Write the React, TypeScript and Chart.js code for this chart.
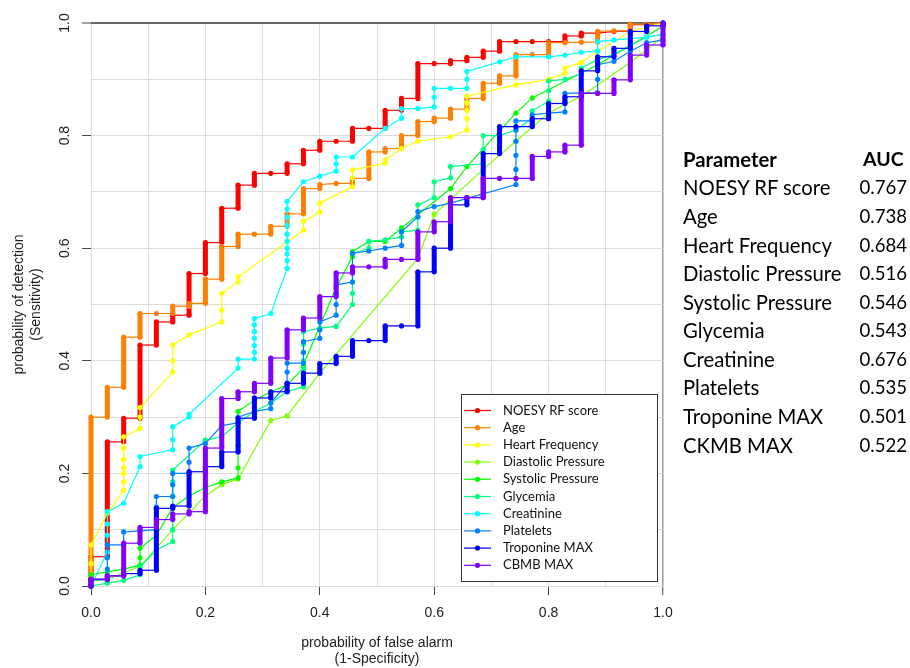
import React, { useEffect, useRef } from 'react';
import { Chart, registerables } from 'chart.js';

Chart.register(...registerables);

// number of negative cases: x = false positives / NEGATIVES
const NEGATIVES = 35;

const seriesNames = [
  'NOESY RF score', 'Age', 'Heart Frequency', 'Diastolic Pressure', 'Systolic Pressure',
  'Glycemia', 'Creatinine', 'Platelets', 'Troponine MAX', 'CBMB MAX',
];
const tableNames = [
  'NOESY RF score', 'Age', 'Heart Frequency', 'Diastolic Pressure', 'Systolic Pressure',
  'Glycemia', 'Creatinine', 'Platelets', 'Troponine MAX', 'CKMB MAX',
];
const aucValues = ['0.767', '0.738', '0.684', '0.516', '0.546', '0.543', '0.676', '0.535', '0.501', '0.522'];
const seriesColors = ['#FF0000', '#FF8000', '#FFFF00', '#80FF00', '#00FF00', '#00FF80', '#00FFFF', '#0080FF', '#0000FF', '#8000FF'];
const denseSeries = [true, true, false, false, false, false, false, false, true, true];

// [false positives, sensitivity]
const noesyRF = [[0,0],[0,0.052],[1,0.052],[1,0.256],[2,0.256],[2,0.298],[3,0.298],[3,0.428],[4,0.428],[4,0.469],[5,0.469],[5,0.481],[6,0.481],[6,0.555],[7,0.555],[7,0.61],[8,0.61],[8,0.671],[9,0.671],[9,0.712],[10,0.712],[10,0.733],[11,0.733],[12,0.733],[12,0.75],[13,0.75],[13,0.774],[14,0.774],[14,0.79],[15,0.79],[16,0.79],[16,0.813],[17,0.813],[18,0.813],[18,0.845],[19,0.845],[19,0.866],[20,0.866],[20,0.928],[21,0.928],[22,0.928],[22,0.933],[23,0.933],[23,0.939],[24,0.939],[24,0.95],[25,0.95],[25,0.967],[26,0.967],[27,0.967],[28,0.967],[29,0.967],[29,0.977],[30,0.977],[30,0.982],[31,0.982],[32,0.985],[33,0.985],[33,0.997],[34,0.997],[35,1]];
const age = [[0,0],[0,0.30],[1,0.30],[1,0.353],[2,0.353],[2,0.442],[3,0.442],[3,0.484],[4,0.484],[5,0.484],[5,0.497],[6,0.497],[6,0.502],[7,0.502],[7,0.545],[8,0.545],[8,0.603],[9,0.603],[9,0.625],[10,0.625],[11,0.625],[11,0.639],[12,0.639],[12,0.661],[13,0.661],[13,0.706],[14,0.706],[14,0.713],[15,0.715],[16,0.715],[16,0.724],[17,0.724],[17,0.771],[18,0.771],[18,0.777],[19,0.777],[19,0.80],[20,0.80],[20,0.825],[21,0.825],[21,0.831],[22,0.831],[22,0.847],[23,0.847],[23,0.866],[24,0.866],[24,0.893],[25,0.893],[25,0.906],[26,0.906],[26,0.944],[27,0.944],[28,0.944],[28,0.965],[29,0.965],[30,0.966],[31,0.966],[31,0.985],[32,0.986],[33,0.986],[33,0.998],[34,0.998],[35,1]];
const heartFrequency = [[0,0],[0,0.04],[0,0.073],[1,0.129],[2,0.17],[2,0.185],[2,0.20],[2,0.21],[2,0.225],[2,0.245],[2,0.265],[3,0.28],[3,0.30],[3,0.317],[5,0.38],[5,0.40],[5,0.428],[6,0.446],[8,0.469],[8,0.49],[8,0.52],[9,0.54],[9,0.549],[13,0.632],[13,0.648],[14,0.664],[14,0.68],[16,0.709],[16,0.725],[16,0.739],[18,0.751],[18,0.757],[19,0.777],[20,0.79],[22,0.798],[23,0.81],[23,0.83],[23,0.845],[23,0.858],[23,0.87],[26,0.89],[28,0.90],[29,0.911],[29,0.92],[30,0.93],[31,0.95],[33,0.985],[35,1]];
const diastolic = [[0,0],[0,0.008],[1,0.012],[3,0.035],[5,0.1],[7,0.16],[8,0.18],[9,0.19],[11,0.294],[12,0.302],[14,0.378],[20,0.582],[21,0.66],[24,0.74],[26,0.79],[28,0.84],[30,0.87],[33,0.93],[35,0.975],[35,1]];
const systolic = [[0,0],[0,0.02],[1,0.025],[2,0.03],[3,0.037],[3,0.05],[3,0.067],[4,0.09],[5,0.14],[6,0.16],[7,0.175],[8,0.185],[9,0.192],[9,0.21],[9,0.25],[9,0.31],[10,0.33],[11,0.345],[12,0.357],[13,0.387],[13,0.393],[15,0.53],[16,0.585],[16,0.594],[17,0.612],[18,0.612],[19,0.636],[22,0.706],[23,0.745],[26,0.84],[27,0.867],[31,0.926],[35,0.994],[35,1]];
const glycemia = [[0,0],[1,0.005],[2,0.01],[3,0.02],[3,0.034],[4,0.064],[5,0.079],[5,0.1],[5,0.12],[5,0.14],[5,0.16],[5,0.185],[5,0.206],[7,0.259],[8,0.265],[9,0.29],[10,0.31],[11,0.325],[12,0.345],[13,0.354],[13,0.37],[13,0.385],[13,0.40],[13,0.415],[13,0.43],[13,0.452],[14,0.458],[15,0.461],[16,0.5],[16,0.52],[16,0.54],[16,0.56],[16,0.59],[17,0.6],[17,0.612],[18,0.615],[19,0.62],[19,0.629],[20,0.632],[20,0.655],[20,0.677],[21,0.69],[21,0.718],[22,0.725],[22,0.745],[24,0.75],[24,0.775],[24,0.8],[25,0.8],[26,0.81],[27,0.831],[27,0.844],[28,0.861],[28,0.88],[28,0.897],[29,0.9],[30,0.91],[30,0.92],[31,0.935],[32,0.945],[33,0.96],[34,0.975],[35,0.98],[35,1]];
const creatinine = [[0,0],[1,0.06],[1,0.09],[1,0.11],[1,0.132],[2,0.147],[3,0.212],[3,0.23],[5,0.242],[5,0.26],[5,0.283],[6,0.30],[6,0.305],[9,0.387],[9,0.403],[10,0.403],[10,0.415],[10,0.427],[10,0.44],[10,0.452],[10,0.464],[10,0.475],[11,0.484],[12,0.564],[12,0.578],[12,0.59],[12,0.60],[12,0.612],[12,0.625],[12,0.64],[12,0.655],[12,0.67],[12,0.683],[13,0.718],[14,0.728],[15,0.737],[15,0.75],[15,0.762],[16,0.762],[18,0.813],[19,0.831],[19,0.848],[20,0.848],[21,0.851],[21,0.868],[21,0.884],[22,0.884],[23,0.884],[23,0.9],[23,0.914],[25,0.931],[26,0.94],[28,0.94],[29,0.943],[30,0.948],[31,0.95],[31,0.967],[32,0.97],[33,0.972],[34,0.975],[35,0.98],[35,1]];
const platelets = [[0,0],[0,0.011],[1,0.011],[1,0.03],[1,0.05],[1,0.073],[2,0.073],[2,0.096],[3,0.098],[4,0.10],[4,0.12],[4,0.14],[4,0.159],[5,0.159],[5,0.18],[5,0.2],[6,0.2],[6,0.22],[6,0.245],[7,0.253],[8,0.285],[9,0.29],[9,0.30],[10,0.31],[11,0.315],[11,0.325],[12,0.36],[12,0.38],[12,0.396],[13,0.396],[13,0.415],[13,0.434],[14,0.44],[14,0.455],[14,0.469],[15,0.481],[15,0.5],[15,0.52],[15,0.535],[16,0.54],[16,0.565],[16,0.591],[17,0.595],[18,0.6],[19,0.605],[19,0.629],[20,0.656],[20,0.665],[21,0.674],[22,0.68],[26,0.713],[26,0.74],[26,0.765],[26,0.79],[26,0.81],[26,0.826],[27,0.826],[27,0.837],[28,0.84],[29,0.842],[29,0.86],[29,0.875],[30,0.876],[31,0.876],[31,0.9],[31,0.926],[32,0.932],[33,0.95],[34,0.965],[35,0.97],[35,1]];
const troponineMax = [[0,0],[0,0.012],[1,0.012],[1,0.018],[2,0.018],[2,0.022],[3,0.022],[3,0.028],[4,0.028],[4,0.138],[5,0.138],[5,0.142],[6,0.142],[6,0.203],[7,0.203],[7,0.212],[8,0.212],[8,0.238],[9,0.238],[9,0.298],[10,0.298],[10,0.334],[11,0.334],[11,0.345],[12,0.345],[12,0.36],[13,0.36],[13,0.378],[14,0.378],[14,0.395],[15,0.395],[15,0.408],[16,0.408],[16,0.436],[17,0.436],[18,0.436],[18,0.462],[19,0.462],[20,0.462],[20,0.558],[21,0.558],[21,0.6],[22,0.6],[22,0.677],[23,0.677],[23,0.69],[24,0.69],[24,0.768],[25,0.768],[25,0.816],[26,0.816],[27,0.816],[27,0.83],[28,0.83],[28,0.857],[29,0.857],[29,0.869],[30,0.869],[30,0.915],[31,0.915],[31,0.94],[32,0.94],[32,0.955],[33,0.955],[33,0.985],[34,0.985],[34,0.995],[35,0.995],[35,1]];
const ckmbMax = [[0,0],[0,0.012],[1,0.012],[1,0.018],[2,0.018],[2,0.076],[3,0.076],[3,0.104],[4,0.104],[4,0.118],[5,0.118],[5,0.128],[6,0.128],[6,0.132],[7,0.132],[7,0.245],[8,0.245],[8,0.333],[9,0.333],[9,0.345],[10,0.345],[10,0.36],[11,0.36],[11,0.405],[12,0.405],[12,0.455],[13,0.455],[13,0.476],[14,0.476],[14,0.514],[15,0.514],[15,0.556],[16,0.556],[16,0.567],[17,0.567],[18,0.567],[18,0.58],[19,0.58],[20,0.58],[20,0.629],[21,0.629],[21,0.647],[22,0.647],[22,0.69],[23,0.69],[24,0.69],[24,0.724],[25,0.724],[26,0.724],[27,0.724],[27,0.763],[28,0.763],[28,0.771],[29,0.771],[29,0.783],[30,0.783],[30,0.875],[31,0.875],[32,0.875],[32,0.899],[33,0.899],[33,0.943],[34,0.943],[34,0.961],[35,0.961],[35,1]];

const allSeries = [noesyRF, age, heartFrequency, diastolic, systolic, glycemia, creatinine, platelets, troponineMax, ckmbMax];

const AXIS_FONT = 'Liberation Sans, Arial, sans-serif';
const TEXT_FONT = 'Lato, "Open Sans", sans-serif';

const isMajor = (v: number) => Math.round(v * 10) % 2 === 0;

const boxLegend = {
  id: 'boxLegend',
  afterDatasetsDraw(chart: any) {
    const { ctx } = chart;
    const x0 = 461, y0 = 394, w = 196, h = 187;
    ctx.save();
    ctx.fillStyle = '#ffffff';
    ctx.fillRect(x0, y0, w, h);
    ctx.strokeStyle = '#333333';
    ctx.lineWidth = 1;
    ctx.strokeRect(x0 + 0.5, y0 + 0.5, w, h);
    chart.data.datasets.forEach((ds: any, i: number) => {
      const cy = 410.5 + i * 17.2;
      ctx.strokeStyle = ds.borderColor;
      ctx.lineWidth = 1.2;
      ctx.beginPath();
      ctx.moveTo(464, cy);
      ctx.lineTo(491, cy);
      ctx.stroke();
      ctx.fillStyle = ds.borderColor;
      ctx.beginPath();
      ctx.arc(477.5, cy, 2.6, 0, Math.PI * 2);
      ctx.fill();
      ctx.fillStyle = '#111111';
      ctx.font = `13px ${TEXT_FONT}`;
      ctx.textBaseline = 'middle';
      ctx.textAlign = 'left';
      ctx.fillText(ds.label, 503, cy);
    });
    ctx.restore();
  },
};

export default function App() {
  const canvasRef = useRef<HTMLCanvasElement | null>(null);

  useEffect(() => {
    if (!canvasRef.current) return;
    const datasets = allSeries.map((series, i) => {
      const dense = denseSeries[i];
      return {
        label: seriesNames[i],
        data: series.map(([fp, tpr]) => ({ x: fp / NEGATIVES, y: tpr })),
        borderColor: seriesColors[i],
        backgroundColor: seriesColors[i],
        pointBackgroundColor: seriesColors[i],
        pointBorderWidth: 0,
        pointRadius: 2.6,
        pointHoverRadius: 2.6,
        borderWidth: 1.2,
        tension: 0,
        fill: false,
        clip: false as any,
        order: 10 - i,
        segment: {
          borderWidth: (ctx: any) =>
            dense && Math.abs(ctx.p0.x - ctx.p1.x) < 0.5 ? 5 : 1.2,
        },
      };
    });

    const gridCommon = (edgeColor: string, edgeWidth: number) => ({
      color: (c: any) => (c.tick && Math.abs(c.tick.value - 1) < 1e-9 ? edgeColor : '#dcdcdc'),
      lineWidth: (c: any) => (c.tick && Math.abs(c.tick.value - 1) < 1e-9 ? edgeWidth : 1),
      tickColor: (c: any) => (c.tick && isMajor(c.tick.value) ? '#444444' : 'rgba(0,0,0,0)'),
      tickWidth: 1,
      tickLength: 9,
      drawTicks: true,
    });

    const chart = new Chart(canvasRef.current, {
      type: 'line',
      data: { datasets },
      plugins: [boxLegend],
      options: {
        responsive: false,
        animation: false,
        events: [],
        layout: { padding: { left: 0, top: 23, right: 247, bottom: 0 } },
        plugins: { legend: { display: false }, tooltip: { enabled: false } },
        scales: {
          x: {
            type: 'linear',
            min: 0,
            max: 1,
            border: { display: false },
            grid: gridCommon('#9a9a9a', 1.5),
            ticks: {
              stepSize: 0.1,
              autoSkip: false,
              maxRotation: 0,
              minRotation: 0,
              padding: 10,
              color: '#222222',
              font: { family: AXIS_FONT, size: 14 },
              callback: (v: any) => (isMajor(Number(v)) ? Number(v).toFixed(1) : ''),
            },
            title: {
              display: true,
              text: ['probability of false alarm', '(1-Specificity)'],
              color: '#222222',
              font: { family: AXIS_FONT, size: 14, lineHeight: 1.2 },
              padding: { top: 0, bottom: 0 },
            },
            afterFit: (s: any) => { s.height = 82; },
          },
          y: {
            type: 'linear',
            min: 0,
            max: 1,
            border: { display: false },
            grid: gridCommon('#666666', 2),
            ticks: {
              stepSize: 0.1,
              autoSkip: false,
              minRotation: 90,
              maxRotation: 90,
              crossAlign: 'center',
              padding: 6.8,
              color: '#222222',
              font: { family: AXIS_FONT, size: 14 },
              callback: (v: any) => (isMajor(Number(v)) ? Number(v).toFixed(1) : ''),
            },
            title: {
              display: true,
              text: ['probability of detection', '(Sensitivity)'],
              color: '#222222',
              font: { family: AXIS_FONT, size: 14, lineHeight: 1.22 },
              padding: { top: 10.5, bottom: 0 },
            },
            afterFit: (s: any) => { s.width = 91; },
          },
        },
      } as any,
    });
    return () => chart.destroy();
  }, []);

  const rowTop = (i: number) => 159.3 + 28.57 * i - 12.5;
  const nameStyle = { position: 'absolute' as const, left: 683, font: `20.3px ${TEXT_FONT}`, lineHeight: '24px', color: '#000', whiteSpace: 'nowrap' as const };
  const numStyle = { position: 'absolute' as const, right: 3, font: `18.6px ${TEXT_FONT}`, lineHeight: '24px', color: '#000', textAlign: 'right' as const };

  return (
    <div style={{ position: 'absolute', left: 0, top: 0, width: 910, height: 668, background: '#ffffff', overflow: 'hidden' }}>
      <canvas ref={canvasRef} width={910} height={668} style={{ position: 'absolute', left: 0, top: 0 }} />
      <div style={{ position: 'absolute', left: 683, top: rowTop(0), font: `bold 20.3px ${TEXT_FONT}`, lineHeight: '24px', color: '#000' }}>Parameter</div>
      <div style={{ position: 'absolute', left: 863, top: rowTop(0), font: `bold 19.5px ${TEXT_FONT}`, lineHeight: '24px', color: '#000' }}>AUC</div>
      {tableNames.map((name, i) => (
        <React.Fragment key={name}>
          <div style={{ ...nameStyle, top: rowTop(i + 1) }}>{name}</div>
          <div style={{ ...numStyle, top: rowTop(i + 1) }}>{aucValues[i]}</div>
        </React.Fragment>
      ))}
    </div>
  );
}
